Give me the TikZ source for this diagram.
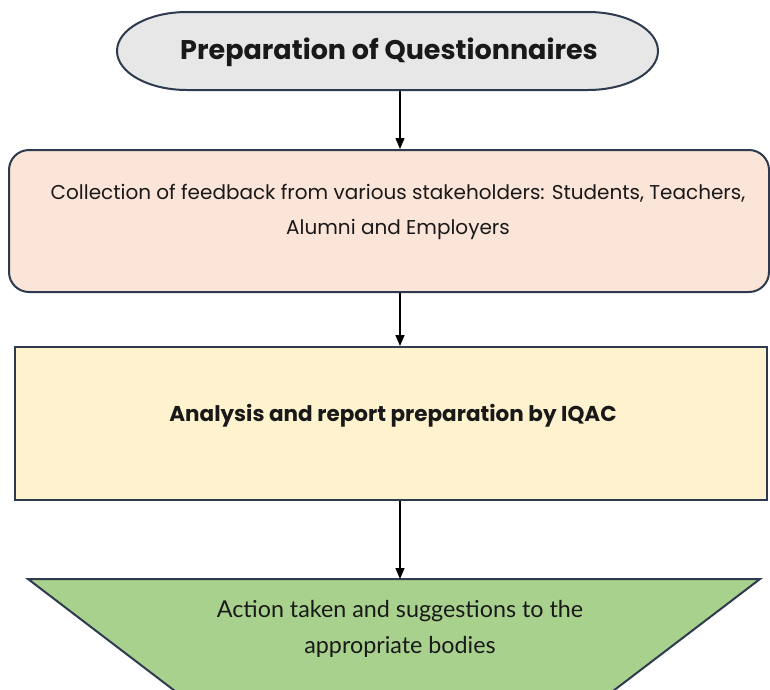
\documentclass[tikz,border=0pt]{standalone}
\usepackage{fontspec}
\setmainfont{Lato}
\newfontfamily\geofont{Poppins}
\usetikzlibrary{arrows.meta}
\definecolor{navy}{HTML}{2E3A4E}
\definecolor{qgray}{HTML}{E7E7E7}
\definecolor{peach}{HTML}{FBE4D8}
\definecolor{cream}{HTML}{FFF2CE}
\definecolor{leaf}{HTML}{A9D18E}
\tikzset{
  border/.style={draw=navy, line width=2pt},
  arr/.style={draw=black, line width=1.3pt, -{Triangle[length=11pt,width=9pt]}},
  txt/.style={align=center, inner sep=0pt, text=black!90},
}
\begin{document}
\begin{tikzpicture}[x=1pt,y=1pt]
\useasboundingbox (0,0) rectangle (770,-689);
\clip (0,0) rectangle (770,-689);
% shapes
\filldraw[border, fill=qgray] (187,-12) -- (588,-12)
  arc[start angle=90,end angle=-90,x radius=70,y radius=39] -- (187,-90)
  arc[start angle=270,end angle=90,x radius=70,y radius=39] -- cycle;
\node[txt, minimum width=541pt, minimum height=78pt] (q) at (389,-52)
  {\geofont\bfseries\fontsize{27}{30}\selectfont Preparation of Questionnaires};
\node[border, fill=peach, rounded corners=20pt, minimum width=760pt, minimum height=142pt, inner sep=0pt] (b) at (389,-221) {};
\node[txt, font=\geofont\fontsize{20}{35}\selectfont] at (398,-212)
  {Collection of feedback from various stakeholders: Students, Teachers,\\ Alumni and Employers};
\node[border, fill=cream, minimum width=752pt, minimum height=153pt, inner sep=0pt] (c) at (391,-423.5) {};
\node[txt, font=\geofont\bfseries\fontsize{21.5}{24}\selectfont] at (393,-416)
  {Analysis and report preparation by IQAC};
\filldraw[border, fill=leaf] (28,-579) -- (760,-579) -- (575,-720) -- (213,-720) -- cycle;
\coordinate (dtop) at (400,-579);
\node[txt, font=\fontsize{23.3}{36}\selectfont] (d) at (400,-629)
  {Action taken and suggestions to the\\ appropriate bodies};
% connectors
\coordinate (ax) at (400,0);
\draw[arr] (q.south -| ax) -- (b.north -| ax);
\draw[arr] (b.south -| ax) -- (c.north -| ax);
\draw[arr] (c.south -| ax) -- (dtop);
\end{tikzpicture}
\end{document}
